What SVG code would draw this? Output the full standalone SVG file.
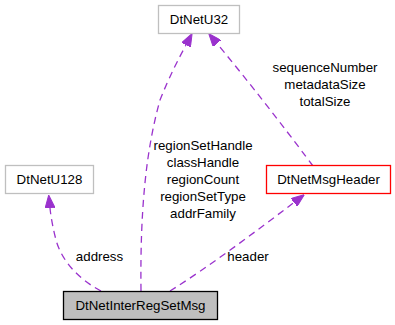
<svg xmlns="http://www.w3.org/2000/svg" width="395" height="325" viewBox="0 0 395 325">
<style>
  text { font-family: "Liberation Sans", Arial, Helvetica, sans-serif; font-size: 13.3px; fill: #000; text-anchor: middle; }
  .node rect { fill: #ffffff; stroke: #bfbfbf; stroke-width: 1.3; }
  .node.main rect { fill: #bfbfbf; stroke: #000000; }
  .node.red rect { stroke: #ff0000; }
  .edge { fill: none; stroke: #9a32cd; stroke-width: 1.3; stroke-dasharray: 7,5; marker-end: url(#arrow); }
</style>
<defs>
  <marker id="arrow" viewBox="0 0 13 10" refX="0" refY="5" markerWidth="13" markerHeight="10" markerUnits="userSpaceOnUse" orient="auto">
    <path d="M0,0 L13,5 L0,10 z" fill="#9a32cd" stroke="#9a32cd" stroke-width="1"/>
  </marker>
</defs>
<rect width="395" height="325" fill="#ffffff"/>
<g id="connectors">
  <path class="edge" d="M101,291 C80,280 62,262 56,240 C53,228 51,218 50,208"/>
  <path class="edge" d="M141,291 C140,210 146,150 160,100 C170,75 178,60 186,45"/>
  <path class="edge" d="M313,166 C295,142 262,98 217,43.5"/>
  <path class="edge" d="M170,291 C210,266 255,232 294,202.5"/>
  <text x="99.5" y="261">address</text>
  <text x="203" y="150">regionSetHandle</text>
  <text x="203" y="167">classHandle</text>
  <text x="203" y="184">regionCount</text>
  <text x="203" y="201">regionSetType</text>
  <text x="203" y="218">addrFamily</text>
  <text x="325" y="72">sequenceNumber</text>
  <text x="325" y="89">metadataSize</text>
  <text x="325" y="106">totalSize</text>
  <text x="248" y="261">header</text>
</g>
<g id="DtNetInterRegSetMsg" class="node main">
  <rect x="63.5" y="291.5" width="154" height="28"/>
  <text x="140.5" y="310">DtNetInterRegSetMsg</text>
</g>
<g id="DtNetU128" class="node">
  <rect x="5.5" y="165.5" width="88" height="28"/>
  <text x="49.5" y="184">DtNetU128</text>
</g>
<g id="DtNetU32" class="node">
  <rect x="158.5" y="5.5" width="81" height="28"/>
  <text x="199" y="24">DtNetU32</text>
</g>
<g id="DtNetMsgHeader" class="node red">
  <rect x="266.5" y="165.5" width="124" height="28"/>
  <text x="328.5" y="184">DtNetMsgHeader</text>
</g>
</svg>
